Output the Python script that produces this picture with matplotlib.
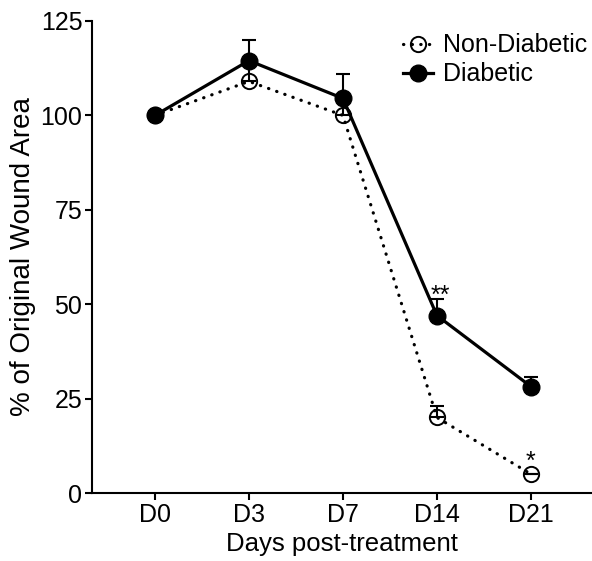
import numpy as np
import matplotlib.pyplot as plt

plt.rcParams['font.family'] = ['Liberation Sans', 'DejaVu Sans']

days = ['D0', 'D3', 'D7', 'D14', 'D21']
non_diabetic = [100, 109, 100, 20, 5]
non_diabetic_err = [0, 5, 4.5, 3, 0]
diabetic = [100, 114.5, 104.5, 47, 28.2]
diabetic_err = [0, 5.5, 6.4, 4.4, 2.4]

x = np.arange(len(days))

fig = plt.figure(figsize=(5.92, 5.61), dpi=100)
ax = fig.add_axes([0.1554, 0.1212, 0.8446, 0.8414])

# upward-only error bars
ax.errorbar(x, non_diabetic, yerr=[np.zeros(len(x)), non_diabetic_err], fmt='none',
            ecolor='black', elinewidth=1.5, capsize=5, capthick=1.5, zorder=2)
ax.errorbar(x, diabetic, yerr=[np.zeros(len(x)), diabetic_err], fmt='none',
            ecolor='black', elinewidth=1.5, capsize=5, capthick=1.5, zorder=2)

ax.plot(x, non_diabetic, color='black', linestyle=(0, (0.1, 2.6)), lw=2.3,
        dash_capstyle='round', marker='o', markersize=11, markerfacecolor='none',
        markeredgecolor='black', markeredgewidth=1.4, label='Non-Diabetic', zorder=3)
ax.plot(x, diabetic, color='black', lw=2.3, marker='o', markersize=12,
        markerfacecolor='black', markeredgecolor='black', label='Diabetic', zorder=4)

# significance marks
ax.text(3.04, 50.4, '**', ha='center', va='baseline', fontsize=18)
ax.text(4.0, 6.5, '*', ha='center', va='baseline', fontsize=18)

ax.set_xlim(-0.67, 4.65)
ax.set_ylim(0, 125)
ax.set_xticks(x)
ax.set_xticklabels(days)
ax.set_yticks([0, 25, 50, 75, 100, 125])
ax.tick_params(axis='both', labelsize=18, direction='out', length=5, width=1.5, pad=2)
ax.set_xlabel('Days post-treatment', fontsize=18.5, labelpad=4)
ax.set_ylabel('% of Original Wound Area', fontsize=20, labelpad=3)

for s in ['top', 'right']:
    ax.spines[s].set_visible(False)
for s in ['left', 'bottom']:
    ax.spines[s].set_linewidth(1.5)

ax.legend(loc='upper right', bbox_to_anchor=(1.015, 1.0), frameon=False, fontsize=18,
          handlelength=1.2, handletextpad=0.4, labelspacing=0.2, borderaxespad=0.1)

fig.savefig('out.png', dpi=100)
